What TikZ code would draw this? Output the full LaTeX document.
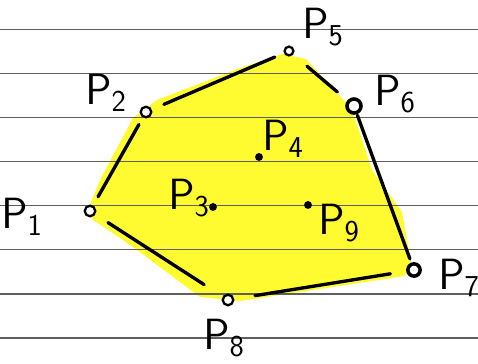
\documentclass[tikz,border=0pt]{standalone}
\usepackage{amsmath,amssymb}
\usepackage{tikz}
\usetikzlibrary{arrows.meta,positioning,calc}
\definecolor{hullyellow}{RGB}{255,251,48}
\definecolor{rulegray}{RGB}{95,95,95}
\begin{document}
\begin{tikzpicture}[
    x=0.02cm, y=-0.02cm,
    hullpt/.style={circle, draw=black, line width=1.3pt, fill=white, inner sep=0pt, minimum size=6pt},
    innerpt/.style={circle, fill=black, inner sep=0pt, minimum size=4.5pt},
    ptlabel/.style={font=\fontsize{23}{25}\selectfont, inner sep=0pt},
    edge/.style={line width=1.9pt, line cap=round, black}
  ]
  \useasboundingbox (0,0) rectangle (478,364);

  %% Highlighted hull area
  \fill[hullyellow] (88,210) -- (100,180) -- (133,118) -- (157,100) -- (240,68)
    -- (283,54) -- (306,59) -- (340,96) -- (352,110) -- (372,170) -- (402,212)
    -- (411,262) -- (405,276) -- (300,292) -- (240,301) -- (200,297)
    -- (133,247) -- (92,219) -- cycle;

  %% Ruled paper lines
  \foreach \k in {0,...,7}
    \draw[rulegray, line width=0.8pt] (0,29.3+44.1*\k) -- (478,29.3+44.1*\k);

  %% Points
  \node[hullpt] (p1) at (90,211) {};
  \node[hullpt] (p2) at (146,112) {};
  \node[innerpt] (p3) at (213,207) {};
  \node[innerpt] (p4) at (259,157) {};
  \node[hullpt, minimum size=5pt] (p5) at (289,51) {};
  \node[hullpt, minimum size=8pt, line width=2pt] (p6) at (354,106) {};
  \node[hullpt, minimum size=7pt, line width=2pt] (p7) at (414,270) {};
  \node[hullpt] (p8) at (228,300) {};
  \node[innerpt] (p9) at (308,205) {};

  %% Labels
  \node[ptlabel] (l1) at (22,217) {$\mathsf{P_1}$};
  \node[ptlabel] (l2) at (106,93) {$\mathsf{P_2}$};
  \node[ptlabel] (l3) at (189,198) {$\mathsf{P_3}$};
  \node[ptlabel] (l4) at (283,139) {$\mathsf{P_4}$};
  \node[ptlabel] (l5) at (323,27) {$\mathsf{P_5}$};
  \node[ptlabel] (l6) at (395,94) {$\mathsf{P_6}$};
  \node[ptlabel] (l7) at (459,278) {$\mathsf{P_7}$};
  \node[ptlabel] (l8) at (224,338) {$\mathsf{P_8}$};
  \node[ptlabel] (l9) at (339,223) {$\mathsf{P_9}$};

  %% Hull edges
  \draw[edge, shorten <=0.2cm, shorten >=0.16cm] (p1) -- (p2);
  \draw[edge, shorten <=0.26cm, shorten >=0.2cm] (p2) -- (p5);
  \draw[edge, shorten <=0.36cm, shorten >=0.26cm] (p5) -- (p6);
  \draw[edge, shorten <=0.02cm, shorten >=0.08cm] (p6) -- (p7);
  \draw[edge, shorten <=0.32cm, shorten >=0.42cm] (p7) -- (p8);
  \draw[edge, shorten <=0.44cm, shorten >=0.3cm] (p8) -- (p1);

\end{tikzpicture}
\end{document}
